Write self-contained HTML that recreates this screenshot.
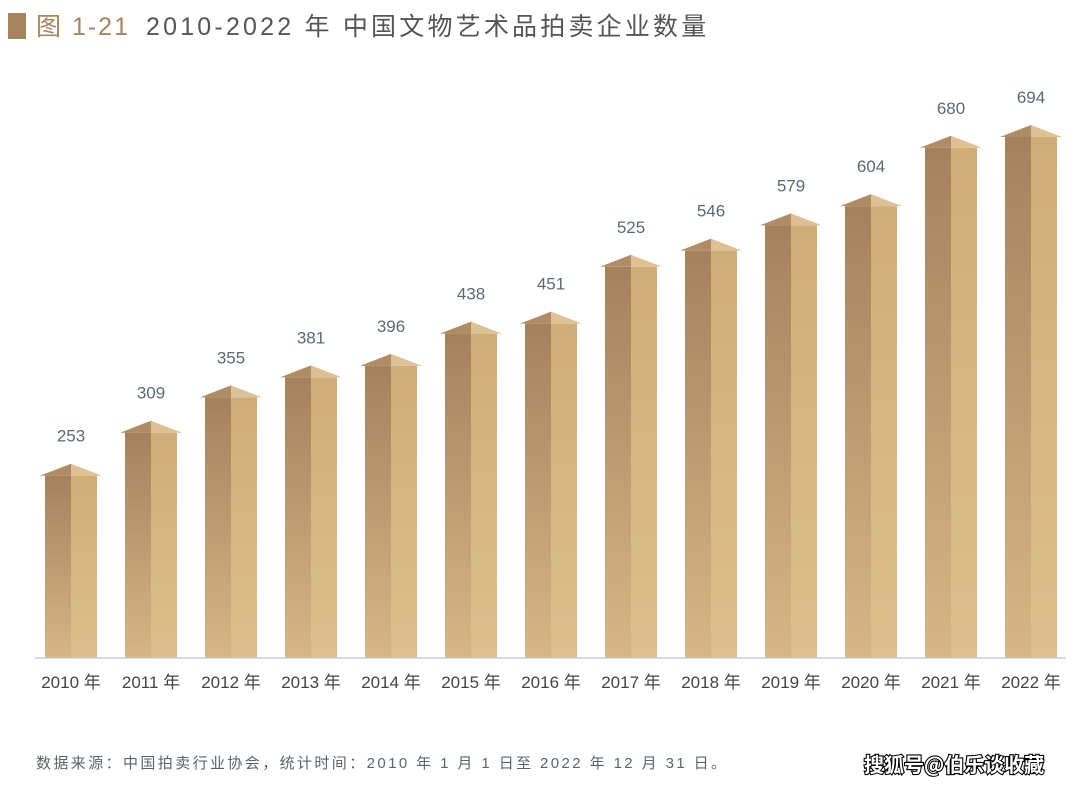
<!DOCTYPE html>
<html><head><meta charset="utf-8"><style>
body{margin:0;background:#fff;width:1080px;height:788px;overflow:hidden;font-family:"Liberation Sans","Noto Sans CJK SC",sans-serif}
</style></head><body>
<svg width="1080" height="788" xmlns="http://www.w3.org/2000/svg" style="position:absolute;left:0;top:0">
<defs>
<linearGradient id="gl" x1="0" y1="0" x2="0" y2="1"><stop offset="0" stop-color="#a4825e"/><stop offset="1" stop-color="#d6b685"/></linearGradient>
<linearGradient id="gr" x1="0" y1="0" x2="0" y2="1"><stop offset="0" stop-color="#d0ad78"/><stop offset="1" stop-color="#dcbf8c"/></linearGradient>
</defs>
<rect x="8" y="13" width="18" height="26" fill="#a7845f"/>
<text x="36" y="35" font-size="25" fill="#a7845f" letter-spacing="2" font-family="Liberation Sans,Noto Sans CJK SC,sans-serif">图 1-21</text>
<text x="146" y="35" font-size="25" fill="#555" letter-spacing="3.2" font-family="Liberation Sans,Noto Sans CJK SC,sans-serif">2010-2022 年 中国文物艺术品拍卖企业数量</text>
<g id="bars"></g>
<line x1="35" y1="658" x2="1066" y2="658" stroke="#ccc" stroke-width="1.5"/>
<text x="36" y="768" font-size="15" fill="#5a656d" letter-spacing="2.4" font-family="Liberation Sans,Noto Sans CJK SC,sans-serif">数据来源：中国拍卖行业协会，统计时间：2010 年 1 月 1 日至 2022 年 12 月 31 日。</text>
<text x="864" y="772" font-size="20" fill="#fff" stroke="#000" stroke-width="2.2" paint-order="stroke" font-family="Noto Sans CJK SC,sans-serif" font-weight="bold">搜狐号@伯乐谈收藏</text>
</svg>
<script>
var v=[253,309,355,381,396,438,451,525,546,579,604,680,694];
var g=document.getElementById('bars'),h='';
for(var i=0;i<v.length;i++){
 var c=71+i*80,p=658-v[i]*0.768,e=p+12;
 h+='<rect x="'+(c-26)+'" y="'+e+'" width="26" height="'+(658-e)+'" fill="url(#gl)"/>';
 h+='<rect x="'+c+'" y="'+e+'" width="26" height="'+(658-e)+'" fill="url(#gr)"/>';
 h+='<polygon points="'+(c-31)+','+e+' '+c+','+p+' '+c+','+e+'" fill="#b08c64"/>';
 h+='<polygon points="'+c+','+p+' '+(c+31)+','+e+' '+c+','+e+'" fill="#ddc194"/>';
 h+='<text x="'+c+'" y="'+(p-22)+'" font-size="17" fill="#5b6a74" text-anchor="middle">'+v[i]+'</text>';
 h+='<text x="'+c+'" y="688" font-size="17" fill="#444" text-anchor="middle">'+(2010+i)+' 年</text>';
}
g.innerHTML=h;
</script>
</body></html>
